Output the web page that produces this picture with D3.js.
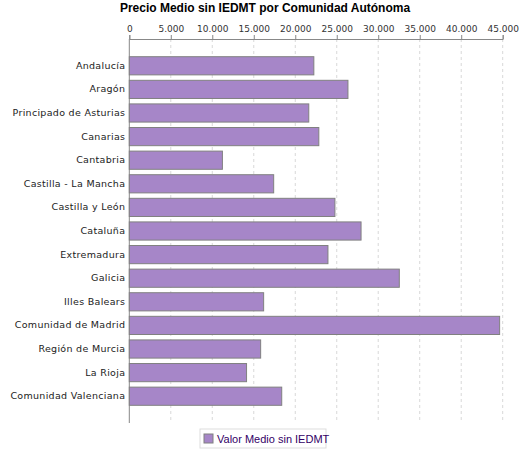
<!DOCTYPE html>
<html><head><meta charset="utf-8">
<script src="https://cdn.jsdelivr.net/npm/d3@7"></script>
<style>body{margin:0;background:#fff}</style>
</head><body>
<script>
var regions = ["Andalucía","Aragón","Principado de Asturias","Canarias","Cantabria","Castilla - La Mancha","Castilla y León","Cataluña","Extremadura","Galicia","Illes Balears","Comunidad de Madrid","Región de Murcia","La Rioja","Comunidad Valenciana"];
var values = [22240,26350,21630,22840,11220,17400,24780,27930,23940,32540,16190,44630,15830,14130,18370];
var ticks = [0,5000,10000,15000,20000,25000,30000,35000,40000,45000];
var seriesName = "Valor Medio sin IEDMT";

var svg = d3.select("body").append("svg").attr("width",525).attr("height",450);
var plotLeft = 129.3, plotRight = 502.7, plotTop = 39, plotBottom = 423;

var x = d3.scaleLinear().domain([0,45000]).range([plotLeft,plotRight]);
var y = d3.scaleBand().domain(regions).range([plotTop,plotBottom]).paddingInner(0.23).paddingOuter(0.75);
var fmt = function(d){ return d3.format(",")(d).replace(/,/g,"."); };

svg.append("text").attr("x",265).attr("y",12).attr("text-anchor","middle")
	.style("font","bold 12px 'Liberation Sans', Arial").text("Precio Medio sin IEDMT por Comunidad Autónoma");

svg.append("g").selectAll("line").data(ticks.slice(1)).join("line")
	.attr("x1",function(d){return x(d);}).attr("x2",function(d){return x(d);})
	.attr("y1",plotTop).attr("y2",plotBottom)
	.attr("stroke","#d8d8d8").attr("stroke-dasharray","3,3");

var ax = svg.append("g").attr("transform","translate(0,"+plotTop+")")
	.call(d3.axisTop(x).tickValues(ticks).tickFormat(fmt).tickSize(4));
ax.select(".domain").attr("stroke","#888");
ax.selectAll(".tick line").attr("stroke","#888");
ax.selectAll("text").style("font","9px 'DejaVu Sans'").attr("fill","#333");

svg.append("line").attr("x1",plotLeft).attr("x2",plotLeft).attr("y1",plotTop).attr("y2",plotBottom).attr("stroke","#888");

svg.append("g").selectAll("rect").data(values).join("rect")
	.attr("x",plotLeft).attr("y",function(d,i){return y(regions[i]);})
	.attr("width",function(d){return x(d)-plotLeft;}).attr("height",y.bandwidth())
	.attr("fill","#a686c8").attr("stroke","#808080");

svg.append("g").selectAll("text").data(regions).join("text")
	.attr("x",plotLeft-4).attr("y",function(d){return y(d)+y.bandwidth()/2+3;})
	.attr("text-anchor","end").style("font","9.5px 'DejaVu Sans'").style("letter-spacing","0.3px")
	.attr("fill","#222").text(function(d){return d;});

var lg = svg.append("g").attr("transform","translate(200,429)");
lg.append("rect").attr("width",126).attr("height",19).attr("fill","#fff").attr("stroke","#ddd");
lg.append("rect").attr("x",4).attr("y",5).attr("width",9).attr("height",9).attr("fill","#a686c8").attr("stroke","#808080");
lg.append("text").attr("x",17).attr("y",14).style("font","11px 'Liberation Sans', Arial").attr("fill","#330066").text(seriesName);
</script>
</body></html>
